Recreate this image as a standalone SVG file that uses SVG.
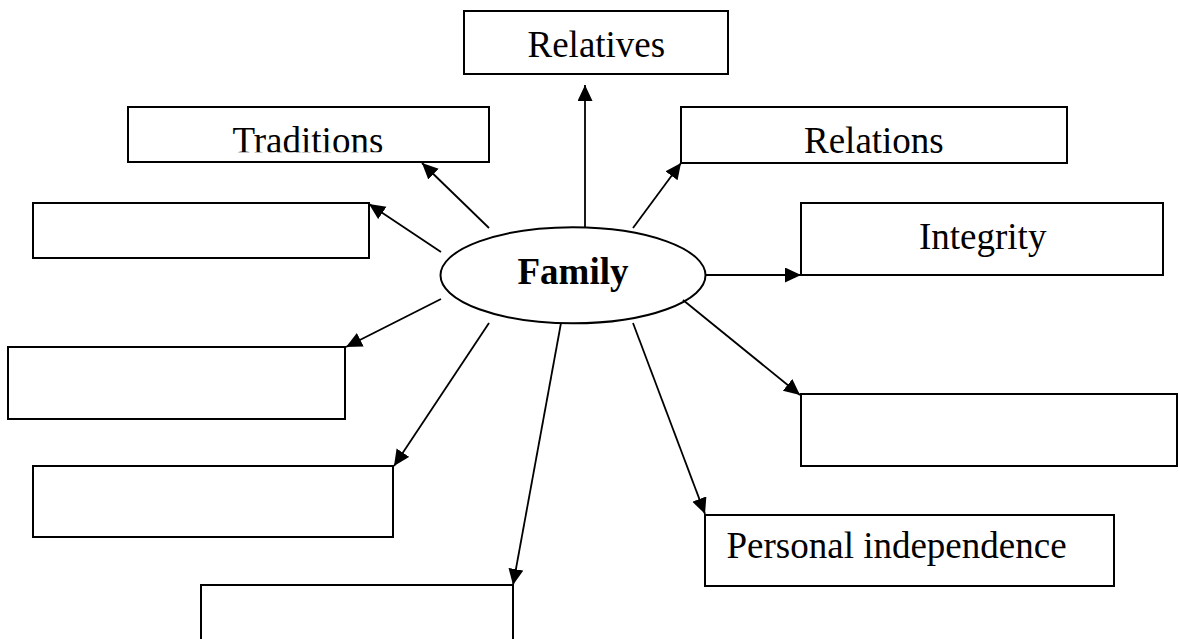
<svg xmlns="http://www.w3.org/2000/svg" width="1179" height="639" viewBox="0 0 1179 639">
<style>
.box{fill:#fff;stroke:#000;stroke-width:2}
.lbl{font-family:"Liberation Serif","Times New Roman",serif;font-size:37px;fill:#000}
.conn line{stroke:#000;stroke-width:1.8;marker-end:url(#arr)}
</style>
<defs>
<marker id="arr" markerUnits="userSpaceOnUse" markerWidth="18" markerHeight="16" refX="16" refY="7.5" orient="auto">
<path d="M0,0 L16,7.5 L0,15 z" fill="#000"/>
</marker>
<clipPath id="tradClip"><rect x="128" y="107" width="361" height="45.3"/></clipPath>
</defs>
<rect width="1179" height="639" fill="#fff"/>
<g id="relatives"><rect class="box" x="464" y="11" width="264" height="63"/><text class="lbl" x="527.5" y="57">Relatives</text></g>
<g id="traditions"><rect class="box" x="128" y="107" width="361" height="55"/><text class="lbl" x="232.5" y="153" clip-path="url(#tradClip)">Traditions</text></g>
<g id="relations"><rect class="box" x="681" y="107" width="386" height="56"/><text class="lbl" x="804" y="152.5">Relations</text></g>
<g id="blank1"><rect class="box" x="33" y="203" width="336" height="55"/></g>
<g id="integrity"><rect class="box" x="801" y="203" width="362" height="72"/><text class="lbl" x="919" y="248.5">Integrity</text></g>
<g id="blank2"><rect class="box" x="8" y="347" width="337" height="72"/></g>
<g id="blank3"><rect class="box" x="801" y="394" width="376" height="72"/></g>
<g id="blank4"><rect class="box" x="33" y="466" width="360" height="71"/></g>
<g id="personal"><rect class="box" x="705" y="515" width="409" height="71"/><text class="lbl" x="726.5" y="558">Personal independence</text></g>
<g id="blank5"><rect class="box" x="201" y="585" width="312" height="70"/></g>
<g id="family"><ellipse cx="573" cy="275.3" rx="132.5" ry="48" fill="#fff" stroke="#000" stroke-width="2"/><text class="lbl" x="573" y="283.5" text-anchor="middle" font-weight="bold">Family</text></g>
<g id="connectors" class="conn">
<line x1="585" y1="227" x2="585" y2="85"/>
<line x1="489" y1="228" x2="422" y2="163"/>
<line x1="441" y1="252" x2="369" y2="204"/>
<line x1="633" y1="228" x2="681" y2="163"/>
<line x1="706" y1="275" x2="801" y2="275"/>
<line x1="683" y1="300" x2="800" y2="395"/>
<line x1="633" y1="323" x2="705" y2="514"/>
<line x1="561" y1="323" x2="513" y2="585"/>
<line x1="489" y1="323" x2="394" y2="466"/>
<line x1="441" y1="299" x2="346" y2="347"/>
</g>
</svg>
